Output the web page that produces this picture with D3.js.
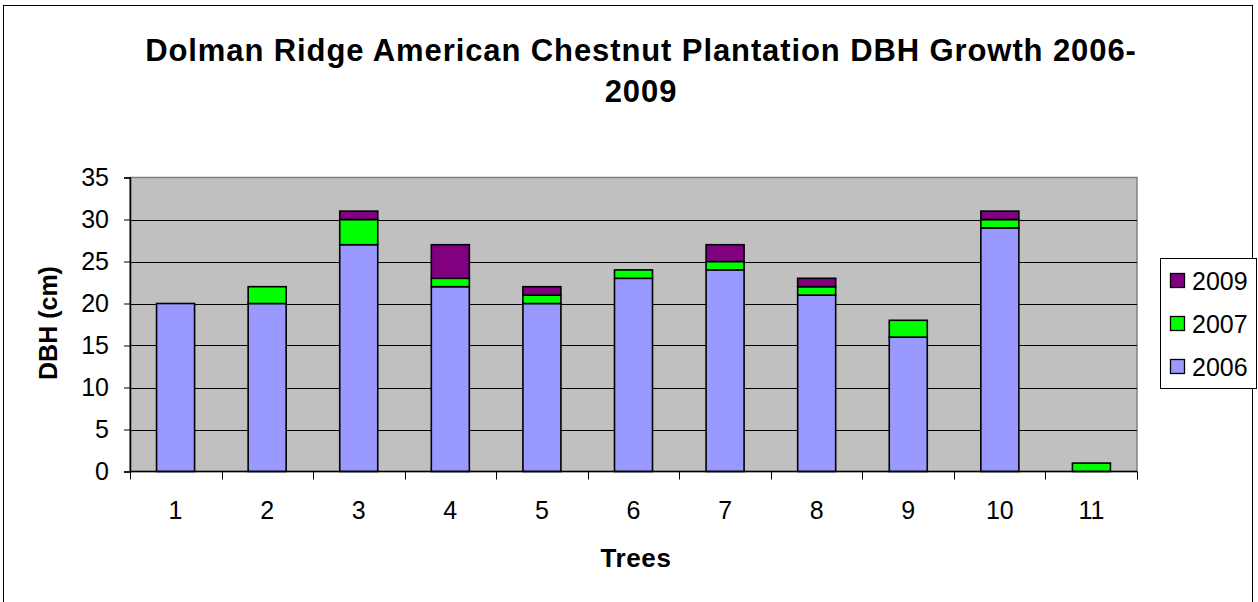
<!DOCTYPE html>
<html>
<head>
<meta charset="utf-8">
<script src="https://cdn.jsdelivr.net/npm/d3@7"></script>
<style>
  html, body { margin: 0; padding: 0; background: #fff; }
  svg { display: block; font-family: "Liberation Sans", Arial, sans-serif; }
</style>
</head>
<body>
<svg id="chart" width="1258" height="602"></svg>
<script>
// Tree numbers along the x axis
const trees = ["1", "2", "3", "4", "5", "6", "7", "8", "9", "10", "11"];
// DBH measured in 2006, and growth added by 2007 and 2009 (cm)
const dbh2006 = [20, 20, 27, 22, 20, 23, 24, 21, 16, 29, 0];
const grow2007 = [0, 2, 3, 1, 1, 1, 1, 1, 2, 1, 1];
const grow2009 = [0, 0, 1, 4, 1, 0, 2, 1, 0, 1, 0];
const seriesNames = ["2006", "2007", "2009"];
const seriesColors = ["#9999FF", "#00FF00", "#800080"];
const yTicks = [0, 5, 10, 15, 20, 25, 30, 35];

const svg = d3.select("#chart");

// Outer chart frame
svg.append("rect")
  .attr("x", 3.5).attr("y", 5.5)
  .attr("width", 1249).attr("height", 620)
  .attr("fill", "#fff").attr("stroke", "#000").attr("stroke-width", 1);

const plot = { left: 130, right: 1137, top: 177.5, bottom: 471.5 };

const x = d3.scaleBand().domain(trees)
  .range([plot.left, plot.right]).paddingInner(0.585).paddingOuter(0.29);
const y = d3.scaleLinear().domain([0, 35]).range([plot.bottom, plot.top]);

// Plot background
svg.append("rect")
  .attr("x", plot.left).attr("y", plot.top)
  .attr("width", plot.right - plot.left).attr("height", plot.bottom - plot.top)
  .attr("fill", "#C0C0C0").attr("stroke", "#808080").attr("stroke-width", 1.5);

// Horizontal gridlines
svg.append("g").selectAll("line")
  .data(yTicks.filter(t => t > 0 && t < 35))
  .join("line")
  .attr("x1", plot.left).attr("x2", plot.right)
  .attr("y1", d => Math.round(y(d)) + 0.5).attr("y2", d => Math.round(y(d)) + 0.5)
  .attr("stroke", "#000").attr("stroke-width", 1);

// Stack the series
const rows = trees.map((t, i) => ({ tree: t, "2006": dbh2006[i], "2007": grow2007[i], "2009": grow2009[i] }));
const stack = d3.stack().keys(seriesNames)(rows);

const barGroups = svg.append("g").selectAll("g")
  .data(stack)
  .join("g")
  .attr("fill", (d, i) => seriesColors[i]);

barGroups.selectAll("rect")
  .data(d => d.filter(p => p[1] - p[0] > 0))
  .join("rect")
  .attr("x", d => x(d.data.tree))
  .attr("width", x.bandwidth())
  .attr("y", d => y(d[1]))
  .attr("height", d => y(d[0]) - y(d[1]))
  .attr("stroke", "#000").attr("stroke-width", 1.6);

// Y axis
const yAxis = svg.append("g")
  .attr("transform", `translate(${plot.left},0)`)
  .call(d3.axisLeft(y).tickValues(yTicks).tickSize(6).tickPadding(15));
yAxis.select(".domain").attr("stroke", "#000").attr("stroke-width", 1.5);
yAxis.selectAll(".tick line").attr("stroke", "#000").attr("stroke-width", 1);
yAxis.selectAll(".tick text").attr("font-size", 25).attr("fill", "#000")
  .attr("font-family", "'Liberation Sans', Arial, sans-serif");

// X axis with tick marks at category boundaries
const xAxisG = svg.append("g").attr("transform", `translate(0,${plot.bottom})`);
xAxisG.append("line")
  .attr("x1", plot.left).attr("x2", plot.right)
  .attr("y1", 0).attr("y2", 0)
  .attr("stroke", "#000").attr("stroke-width", 1.5);
const boundaries = d3.range(trees.length + 1).map(i => plot.left + i * (plot.right - plot.left) / trees.length);
xAxisG.selectAll("line.tk")
  .data(boundaries)
  .join("line").attr("class", "tk")
  .attr("x1", d => Math.round(d) + 0.5).attr("x2", d => Math.round(d) + 0.5)
  .attr("y1", 0).attr("y2", 8)
  .attr("stroke", "#000").attr("stroke-width", 1);
xAxisG.selectAll("text")
  .data(trees)
  .join("text")
  .attr("x", d => x(d) + x.bandwidth() / 2)
  .attr("y", 38.5)
  .attr("text-anchor", "middle")
  .attr("font-size", 25)
  .attr("fill", "#000")
  .attr("dy", "0.35em")
  .text(d => d);

// Title
const title = svg.append("text")
  .attr("text-anchor", "middle")
  .attr("font-size", 31).attr("font-weight", "bold").attr("fill", "#000")
  .attr("letter-spacing", 0.9);
title.append("tspan").attr("x", 641).attr("y", 61).text("Dolman Ridge American Chestnut Plantation DBH Growth 2006-");
title.append("tspan").attr("x", 641).attr("y", 102).text("2009");

// Axis titles
svg.append("text")
  .attr("x", 636).attr("y", 567)
  .attr("text-anchor", "middle").attr("letter-spacing", 0.6)
  .attr("font-size", 26).attr("font-weight", "bold").text("Trees");
svg.append("text")
  .attr("transform", "translate(57,323) rotate(-90)")
  .attr("text-anchor", "middle")
  .attr("font-size", 25).attr("font-weight", "bold").text("DBH (cm)");

// Legend (top-most series listed first)
const legend = svg.append("g");
legend.append("rect")
  .attr("x", 1160.5).attr("y", 258.5).attr("width", 96).attr("height", 130)
  .attr("fill", "#fff").attr("stroke", "#000").attr("stroke-width", 1);
const legendItems = seriesNames.map((n, i) => ({ name: n, color: seriesColors[i] })).reverse();
const li = legend.selectAll("g.item")
  .data(legendItems)
  .join("g").attr("class", "item")
  .attr("transform", (d, i) => `translate(1170,${281 + i * 43})`);
li.append("rect")
  .attr("x", 0.5).attr("y", -7.5).attr("width", 14).attr("height", 14)
  .attr("fill", d => d.color).attr("stroke", "#000").attr("stroke-width", 1.3);
li.append("text")
  .attr("x", 22).attr("y", 0).attr("dy", "0.35em")
  .attr("font-size", 25).text(d => d.name);
</script>
</body>
</html>
